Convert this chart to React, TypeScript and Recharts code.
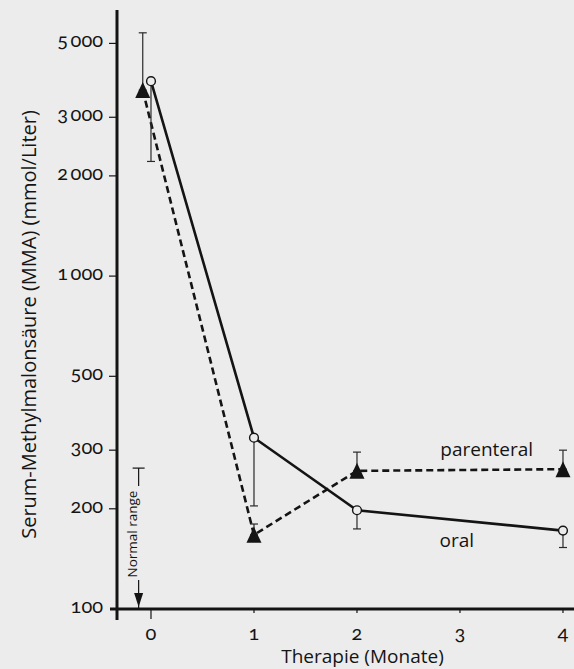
import {
  ComposedChart,
  ErrorBar,
  Label,
  Line,
  ReferenceDot,
  Scatter,
  XAxis,
  YAxis
} from 'recharts';

// Monate, MMA (mmol/Liter)
const oralMonths = [0, 1, 2, 4];
const oralMma = [3850, 327, 198, 172];
const oralErrDown = [1640, 123, 24, 19];

const parenteralMonths = [-0.08, 1, 2, 4];
const parenteralMma = [3620, 167, 260, 263];
const parenteralErrUp = [1760, 13, 36, 37];

const normalRangeMonth = -0.12;
const normalRangeLow = 100;
const normalRangeHigh = 265;

const xTicks = [-0.33, 0, 1, 2, 3, 4];
const yTicks = [100, 200, 300, 500, 1000, 2000, 3000, 5000];

const seriesLabels = [
  { text: 'parenteral', month: 3.26, mma: 302 },
  { text: 'oral', month: 2.97, mma: 161 }
];

const BG = '#ececec';
const INK = '#141414';
const FONT = '"Open Sans", "Noto Sans", sans-serif';
// old-style figures like the printed original
const NUMS = {
  fontFamily: 'Lato, "Open Sans", sans-serif',
  fontFeatureSettings: '"onum"',
  fontVariantNumeric: 'oldstyle-nums'
} as const;

const oralData = oralMonths.map((m, i) => ({ month: m, mma: oralMma[i], err: [oralErrDown[i], 0] }));
const parenteralData = parenteralMonths.map((m, i) => ({
  month: m,
  mma: parenteralMma[i],
  err: [0, parenteralErrUp[i]]
}));
const normalData = [{ month: normalRangeMonth, mma: normalRangeLow, err: [0, normalRangeHigh - normalRangeLow] }];

const fmt = (v: number) => (v >= 1000 ? `${Math.floor(v / 1000)}\u2009000` : String(v));

function XTick({ x, y, payload }: any) {
  if (payload.value < -0.2) {
    return <line x1={x} x2={x} y1={y} y2={y + 11} stroke={INK} strokeWidth={3} />;
  }
  const len = payload.value === 0 ? 10 : 4;
  return (
    <g>
      <line x1={x} x2={x} y1={y} y2={y + len} stroke={INK} strokeWidth={1.2} />
      <text x={x} y={y + 31} textAnchor="middle" fontSize={20} fill={INK} style={NUMS}>
        {payload.value}
      </text>
    </g>
  );
}

function YTick({ x, y, payload }: any) {
  const base = payload.value === 100;
  return (
    <g>
      <line
        x1={x - (base ? 7 : 8)}
        x2={x}
        y1={y}
        y2={y}
        stroke={INK}
        strokeWidth={base ? 3 : 1.2}
      />
      <text x={x - 14} y={y + 4} textAnchor="end" fontSize={20} fill={INK} style={NUMS}>
        {fmt(payload.value)}
      </text>
    </g>
  );
}

function YTitle({ viewBox }: any) {
  const cx = viewBox.x + 28;
  const cy = viewBox.y + viewBox.height / 2 + 15;
  return (
    <text x={cx} y={cy} transform={`rotate(-90, ${cx}, ${cy})`} textAnchor="middle"
      dominantBaseline="central" fontSize={20} fill={INK}>
      Serum-Methylmalonsäure (MMA) (mmol/Liter)
    </text>
  );
}

function XTitle({ viewBox }: any) {
  return (
    <text x={viewBox.x + viewBox.width / 2 + 17} y={viewBox.y + 54} textAnchor="middle"
      fontSize={19} fill={INK}>
      Therapie (Monate)
    </text>
  );
}

const oralDot = (p: any) => (
  <circle key={`o${p.index}`} cx={p.cx} cy={p.cy} r={4.4} fill={BG} stroke={INK} strokeWidth={1.4} />
);

const triangleDot = (p: any) => (
  <polygon
    key={`t${p.index}`}
    points={`${p.cx},${p.cy - 8} ${p.cx - 7.5},${p.cy + 8} ${p.cx + 7.5},${p.cy + 8}`}
    fill={INK}
  />
);

function NormalRangeMarker({ cx, cy }: any) {
  const ty = cy - 75;
  return (
    <g>
      <rect x={cx - 15} y={cy - 123} width={19} height={94} fill={BG} />
      <text x={cx - 2} y={ty} transform={`rotate(-90, ${cx - 2}, ${ty})`} textAnchor="middle"
        fontSize={13.5} fill={INK}>
        Normal range
      </text>
      <polygon points={`${cx - 4.5},${cy - 16} ${cx + 4.5},${cy - 16} ${cx},${cy - 2}`} fill={INK} />
    </g>
  );
}

export default function App() {
  return (
    <div style={{ position: 'absolute', left: 0, top: 0, width: 574, height: 669, background: BG }}>
      <ComposedChart
        width={574}
        height={669}
        margin={{ top: 10, right: 0, bottom: 0, left: 0 }}
        style={{ fontFamily: FONT }}
      >
        <XAxis
          type="number"
          dataKey="month"
          domain={[-0.33, 4.107]}
          ticks={xTicks}
          interval={0}
          allowDataOverflow
          height={60}
          tickSize={0}
          tickMargin={0}
          tickLine={false}
          tick={<XTick />}
          axisLine={{ stroke: INK, strokeWidth: 3 }}
        >
          <Label content={<XTitle />} />
        </XAxis>
        <YAxis
          type="number"
          dataKey="mma"
          scale="log"
          domain={[100, 6300]}
          ticks={yTicks}
          interval={0}
          allowDataOverflow
          width={117}
          tickSize={0}
          tickMargin={0}
          tickLine={false}
          tick={<YTick />}
          axisLine={{ stroke: INK, strokeWidth: 3 }}
        >
          <Label content={<YTitle />} />
        </YAxis>

        <Scatter data={normalData} dataKey="mma" shape={<NormalRangeMarker />} isAnimationActive={false}>
          <ErrorBar dataKey="err" direction="y" width={6} stroke={INK} strokeWidth={1.2} />
        </Scatter>

        <Line
          data={parenteralData}
          dataKey="mma"
          stroke={INK}
          strokeWidth={2.6}
          strokeDasharray="7 4"
          dot={triangleDot}
          activeDot={false}
          isAnimationActive={false}
        >
          <ErrorBar dataKey="err" direction="y" width={4} stroke="#2a2a2a" strokeWidth={1.2} />
        </Line>
        <Line
          data={oralData}
          dataKey="mma"
          stroke={INK}
          strokeWidth={2.6}
          dot={oralDot}
          activeDot={false}
          isAnimationActive={false}
        >
          <ErrorBar dataKey="err" direction="y" width={4} stroke="#2a2a2a" strokeWidth={1.2} />
        </Line>

        {seriesLabels.map((l) => (
          <ReferenceDot
            key={l.text}
            x={l.month}
            y={l.mma}
            r={0}
            stroke="none"
            label={{ value: l.text, position: 'center', fontSize: 19, fill: INK }}
          />
        ))}
      </ComposedChart>
    </div>
  );
}
